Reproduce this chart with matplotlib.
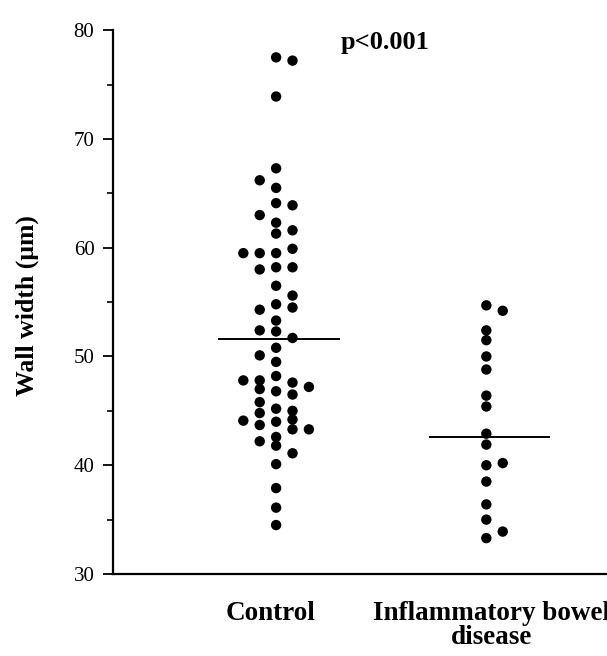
import numpy as np
import matplotlib
matplotlib.use("Agg")
import matplotlib.pyplot as plt
from matplotlib.ticker import MultipleLocator

plt.rcParams['font.family'] = ['Liberation Serif', 'DejaVu Serif']

# wall width values (um), grouped by the swarm column they sit in (-2..2)
control = {
    -2: [59.5, 47.8, 44.1],
    -1: [66.2, 63.0, 59.5, 58.0, 54.3, 52.4, 50.1, 47.8, 47.0, 45.8, 44.8, 43.7, 42.2],
    0: [77.5, 73.9, 67.3, 65.5, 64.1, 62.3, 61.3, 59.5, 58.2, 56.5, 54.8, 53.3, 52.3,
        50.8, 49.5, 48.2, 46.8, 45.2, 44.0, 42.6, 41.8, 40.1, 37.9, 36.1, 34.5],
    1: [77.2, 63.9, 61.6, 59.9, 58.2, 55.6, 54.5, 51.7, 47.6, 46.5, 45.0, 44.2, 43.3, 41.1],
    2: [47.2, 43.3],
}
ibd = {
    0: [54.7, 52.4, 51.5, 50.0, 48.8, 46.4, 45.4, 42.9, 41.9, 40.0, 38.5, 36.4, 35.0, 33.3],
    1: [54.2, 40.2, 33.9],
}
groups = ["Control", "Inflammatory bowel\ndisease"]
group_means = [51.6, 42.6]
p_text = "p<0.001"

fig = plt.figure(figsize=(6.07, 6.56), dpi=100)
ax = fig.add_axes([0.1865, 0.125, 0.8135, 0.829])

col_step = 0.078
for gi, data in enumerate([control, ibd]):
    xc = gi + 1
    for slot, vals in data.items():
        ax.scatter(np.full(len(vals), xc + slot * col_step), vals,
                   s=56, color='black', edgecolors='none', zorder=3)
    ax.plot([xc - 0.27, xc + 0.30], [group_means[gi]] * 2, color='black', lw=1.4, zorder=2)

ax.set_xlim(0.225, 2.574)
ax.set_ylim(30, 80)
ax.spines['top'].set_visible(False)
ax.spines['right'].set_visible(False)
ax.spines['left'].set_linewidth(1.6)
ax.spines['bottom'].set_linewidth(1.6)

ax.yaxis.set_major_locator(MultipleLocator(10))
ax.yaxis.set_minor_locator(MultipleLocator(5))
ax.tick_params(axis='y', which='major', direction='out', length=7.5, width=1.3, labelsize=15, pad=6)
ax.tick_params(axis='y', which='minor', direction='out', length=4, width=1.2)
ax.set_xticks([])

fig.text(27 / 607, 1 - 306 / 656, "Wall width (\u03bcm)", rotation=90, ha='center', va='center',
         fontsize=18.5, fontweight='bold')

ax.text(0.975, -0.05, groups[0], transform=ax.get_xaxis_transform(), ha='center', va='top',
        fontsize=19.5, fontweight='bold', clip_on=False)
ax.text(2.025, -0.05, groups[1], transform=ax.get_xaxis_transform(), ha='center', va='top',
        fontsize=19.5, fontweight='bold', linespacing=0.95, clip_on=False)
ax.text(1.52, 78.9, p_text, ha='center', va='center', fontsize=19, fontweight='bold')

fig.savefig("out.png", dpi=100)
